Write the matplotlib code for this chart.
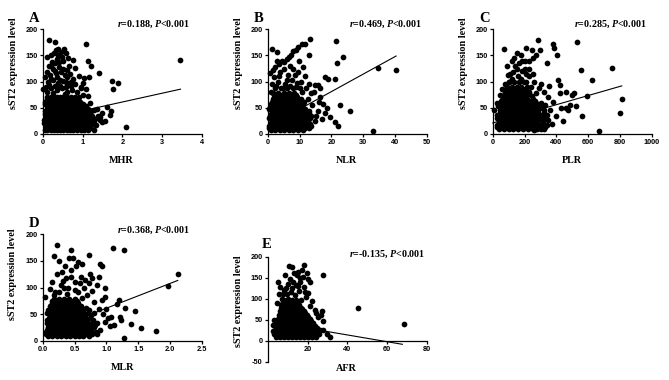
import matplotlib
matplotlib.use("Agg")
import matplotlib.pyplot as plt
import numpy as np

# ---------------- data ----------------
Y_LABEL = "sST2 expression level"

# Panel A: MHR
A_POINTS = [
    (0.17, 179), (0.31, 176), (1.10, 171), (3.46, 142), (0.12, 147), (0.28, 155), (0.33, 160), (0.39, 162),
    (0.45, 156), (0.54, 162), (0.59, 155), (0.24, 138), (0.37, 144), (0.48, 147), (0.52, 139), (0.75, 142),
    (0.82, 126), (0.66, 129), (0.27, 125), (0.42, 128), (0.10, 119), (0.18, 112), (0.33, 116), (0.45, 119),
    (0.56, 112), (0.69, 115), (0.77, 106), (0.14, 100), (0.27, 103), (0.39, 97), (0.52, 101), (0.65, 95),
    (0.09, 90), (0.22, 87), (0.35, 84), (0.48, 87), (0.60, 81), (0.73, 84), (0.86, 81), (0.96, 88),
    (1.02, 75), (1.15, 72), (1.15, 139), (1.21, 130), (1.41, 117), (1.05, 107), (1.16, 109), (1.73, 101),
    (1.90, 98), (1.76, 86), (2.08, 13), (1.71, 44), (1.69, 37), (1.61, 52), (1.57, 24), (1.32, 18),
    (0.95, 90), (1.10, 85), (0.02, 85), (1.29, 46), (1.44, 33), (0.20, 130), (0.30, 135), (0.60, 122),
    (0.36, 108), (0.58, 100), (0.16, 93), (0.44, 92), (0.70, 92), (0.25, 78), (0.55, 76), (0.84, 68),
    (1.18, 60), (1.36, 48), (1.50, 40), (1.48, 22), (0.22, 150), (0.41, 138), (0.30, 120), (0.50, 125),
    (0.62, 108), (0.20, 106), (0.43, 104), (0.72, 100), (0.10, 80), (0.32, 92), (0.58, 90), (0.80, 95),
    (0.38, 150), (0.64, 145), (0.15, 130), (0.90, 110), (1.00, 98), (0.05, 108),
]
A_BLOB = {
    8: [0.05, 0.12, 0.20, 0.28, 0.36, 0.44, 0.52, 0.60, 0.68, 0.76, 0.85, 0.95, 1.05, 1.14, 1.28],
    12: [0.09, 0.16, 0.24, 0.32, 0.40, 0.48, 0.56, 0.64, 0.72, 0.80, 0.90, 1.00, 1.09, 1.20],
    17: [0.08, 0.16, 0.24, 0.32, 0.40, 0.48, 0.56, 0.64, 0.72, 0.80, 0.90, 1.00, 1.10, 1.22, 1.35],
    21: [0.04, 0.12, 0.20, 0.28, 0.36, 0.44, 0.52, 0.60, 0.68, 0.76, 0.85, 0.95, 1.05, 1.16, 1.28],
    26: [0.04, 0.12, 0.20, 0.28, 0.36, 0.44, 0.52, 0.60, 0.68, 0.76, 0.85, 0.94, 1.04, 1.16, 1.30, 1.45],
    30: [0.08, 0.16, 0.24, 0.32, 0.40, 0.48, 0.56, 0.64, 0.72, 0.80, 0.90, 0.99, 1.10, 1.22, 1.36],
    35: [0.09, 0.17, 0.25, 0.33, 0.41, 0.49, 0.57, 0.65, 0.73, 0.82, 0.92, 1.02, 1.12, 1.25, 1.38],
    39: [0.05, 0.13, 0.21, 0.29, 0.37, 0.45, 0.53, 0.61, 0.69, 0.77, 0.87, 0.97, 1.07, 1.18],
    44: [0.06, 0.14, 0.22, 0.30, 0.38, 0.46, 0.54, 0.62, 0.70, 0.79, 0.89, 1.00, 1.10, 1.22],
    48: [0.10, 0.18, 0.26, 0.34, 0.42, 0.50, 0.58, 0.66, 0.74, 0.84, 0.94, 1.04, 1.15],
    53: [0.10, 0.18, 0.26, 0.34, 0.42, 0.50, 0.58, 0.66, 0.75, 0.85, 0.96, 1.08],
    57: [0.06, 0.14, 0.22, 0.30, 0.38, 0.46, 0.54, 0.62, 0.70, 0.80, 0.90, 1.01],
    62: [0.07, 0.15, 0.23, 0.31, 0.39, 0.47, 0.55, 0.63, 0.72, 0.82, 0.94],
    66: [0.11, 0.19, 0.27, 0.35, 0.43, 0.51, 0.59, 0.67, 0.77, 0.88],
    71: [0.12, 0.20, 0.28, 0.36, 0.44, 0.52, 0.60, 0.70, 0.80, 0.90],
}
A_FIT = (27.5, 16.8)          # intercept, slope
A_FIT_RANGE = (0.02, 3.46)

# Panel B: NLR
B_POINTS = [
    (13.3, 181), (21.4, 177), (1.45, 162), (3.0, 156), (23.7, 147), (21.6, 135), (34.7, 127), (40.3, 123),
    (0.72, 116), (11.7, 172), (10.7, 171), (9.6, 166), (8.8, 160), (8.0, 158), (7.3, 150), (12.8, 150),
    (5.95, 144), (6.7, 147), (4.4, 140), (5.2, 137), (3.6, 133), (2.4, 128), (18.0, 108), (19.0, 106),
    (21.1, 106), (15.9, 94), (16.4, 87), (14.8, 94), (22.7, 55), (25.8, 44), (33.0, 6), (22.2, 15),
    (21.0, 23), (19.6, 33), (18.0, 40), (18.5, 49), (17.5, 58), (15.9, 43), (14.8, 24), (13.3, 19),
    (11.7, 18), (16.5, 70), (13.5, 78), (12.0, 88), (10.5, 100), (9.5, 118), (11.0, 128), (8.0, 125),
    (6.5, 112), (4.0, 118), (2.0, 108), (1.2, 95), (3.2, 100), (5.5, 96), (7.5, 104), (9.0, 90),
    (10.8, 80), (12.5, 66), (14.0, 56), (15.2, 35), (17.0, 28), (12.8, 40), (9.8, 140), (7.0, 130),
    (2.8, 140), (1.8, 122), (5.0, 125), (8.5, 112), (3.5, 110), (6.0, 104), (9.2, 98), (11.8, 110),
    (4.8, 88), (7.0, 92), (10.0, 88), (13.0, 96), (2.6, 92), (1.0, 80), (14.5, 80), (16.0, 62),
]
B_BLOB = {
    8: [1.0, 2.4, 3.8, 5.2, 6.6, 8.0, 9.4, 11.0],
    12: [0.4, 1.7, 3.1, 4.5, 5.9, 7.3, 8.7, 10.1, 11.6, 13.0],
    16: [0.5, 1.8, 3.2, 4.6, 6.0, 7.4, 8.8, 10.2, 11.8, 13.5],
    21: [1.0, 2.3, 3.7, 5.1, 6.5, 7.9, 9.3, 10.8, 12.3],
    25: [1.2, 2.6, 4.0, 5.4, 6.8, 8.2, 9.6, 11.0, 12.6],
    30: [0.4, 1.9, 3.3, 4.7, 6.1, 7.5, 8.9, 10.3, 11.8, 13.2],
    34: [0.6, 2.0, 3.4, 4.8, 6.2, 7.6, 9.0, 10.4, 12.0, 13.6],
    39: [1.0, 2.4, 3.8, 5.2, 6.6, 8.0, 9.4, 10.9, 12.4],
    43: [1.3, 2.7, 4.1, 5.5, 6.9, 8.3, 9.7, 11.2, 12.8],
    48: [0.4, 1.8, 3.2, 4.6, 6.0, 7.4, 8.8, 10.3, 11.8],
    52: [0.7, 2.1, 3.5, 4.9, 6.3, 7.7, 9.1, 10.6],
    57: [1.0, 2.4, 3.8, 5.2, 6.6, 8.0, 9.5, 11.0],
    61: [1.4, 2.8, 4.2, 5.6, 7.0, 8.4, 9.9, 11.5],
    66: [1.7, 3.1, 4.5, 5.9, 7.3, 8.8, 10.3],
    70: [2.0, 3.4, 4.8, 6.2, 7.6, 9.1],
    75: [2.6, 4.1, 5.6, 7.2, 8.8],
    79: [1.5, 3.2, 5.0, 6.8, 8.4],
    88: [2.4, 4.2, 6.0, 7.8],
}
B_FIT = (14.0, 3.35)
B_FIT_RANGE = (0.3, 40.3)

# Panel C: PLR
C_POINTS = [
    (282, 180), (71, 162), (381, 172), (527, 176), (402, 150), (385, 165), (245, 160), (297, 160),
    (209, 165), (552, 123), (747, 126), (623, 103), (590, 72), (810, 67), (800, 41), (559, 34),
    (667, 6), (463, 80), (509, 79), (496, 74), (422, 93), (412, 103), (355, 91), (343, 135),
    (270, 150), (255, 145), (485, 55), (463, 49), (422, 78), (150, 155), (175, 150), (120, 140),
    (140, 130), (200, 140), (225, 125), (185, 120), (230, 110), (110, 115), (160, 110), (260, 100),
    (290, 88), (320, 80), (350, 70), (380, 62), (330, 55), (300, 60), (270, 78), (240, 90),
    (210, 100), (430, 50), (400, 35), (440, 25), (370, 20), (330, 15), (300, 10), (260, 8),
    (470, 45), (520, 54), (360, 45), (90, 130), (105, 100), (80, 95), (60, 85), (45, 75),
    (10, 45), (30, 60), (200, 125), (130, 118), (165, 135), (210, 115), (95, 112), (150, 125),
    (185, 140), (120, 105), (250, 115), (300, 95), (175, 105), (135, 145), (230, 140),
]
C_BLOB = {
    10: [40, 70, 100, 130, 160, 190, 220, 250, 280, 320],
    14: [30, 55, 85, 115, 145, 175, 205, 235, 265, 300, 330],
    18: [25, 55, 85, 115, 145, 175, 205, 235, 265, 295, 340],
    22: [40, 70, 100, 130, 160, 190, 220, 250, 280, 315],
    27: [40, 70, 100, 130, 160, 190, 220, 250, 280, 310, 350],
    31: [25, 55, 85, 115, 145, 175, 205, 235, 265, 295, 330],
    36: [30, 60, 90, 120, 150, 180, 210, 240, 270, 300, 340],
    40: [45, 75, 105, 135, 165, 195, 225, 255, 285, 320],
    45: [45, 75, 105, 135, 165, 195, 225, 255, 285, 320],
    49: [50, 80, 110, 140, 170, 200, 230, 260, 295],
    54: [35, 65, 95, 125, 155, 185, 215, 245, 275, 310],
    58: [40, 70, 100, 130, 160, 190, 220, 250, 285],
    63: [50, 80, 110, 140, 170, 200, 230, 265],
    67: [65, 95, 125, 155, 185, 215, 250],
    72: [60, 90, 120, 150, 180, 210, 245],
    76: [75, 105, 135, 165, 195, 225],
    81: [75, 105, 135, 165, 195, 230],
    85: [85, 115, 145, 175, 205],
    90: [90, 120, 150, 180, 215],
    99: [100, 135, 165, 195],
}
C_FIT = (21.0, 0.0875)
C_FIT_RANGE = (0, 810)

# Panel D: MLR
D_POINTS = [
    (0.23, 179), (1.10, 175), (1.27, 170), (0.73, 161), (0.17, 160), (0.04, 83), (2.12, 125), (1.97, 102),
    (1.78, 19), (1.54, 23), (1.45, 56), (1.39, 32), (1.27, 6), (1.29, 62), (1.20, 76), (1.16, 69),
    (1.22, 45), (1.23, 39), (1.08, 45), (1.03, 42), (1.06, 27), (1.12, 30), (0.90, 145), (0.93, 140),
    (0.89, 120), (0.98, 100), (0.93, 76), (0.98, 82), (0.74, 126), (0.77, 117), (0.72, 108), (0.78, 93),
    (0.61, 145), (0.56, 148), (0.53, 140), (0.48, 155), (0.42, 155), (0.45, 133), (0.15, 110), (0.22, 125),
    (0.30, 130), (0.36, 118), (0.28, 105), (0.40, 100), (0.50, 110), (0.60, 120), (0.65, 100), (0.55, 92),
    (0.20, 92), (0.12, 98), (0.35, 140), (0.25, 150), (0.45, 170), (0.85, 105), (0.70, 85), (0.88, 60),
    (0.95, 50), (0.98, 35), (0.90, 20), (0.85, 12), (1.00, 60), (0.80, 72), (0.62, 80), (0.32, 112),
    (0.44, 120), (0.26, 92), (0.38, 88), (0.50, 95), (0.58, 108), (0.18, 85), (0.66, 115), (0.34, 100),
]
D_BLOB = {
    8: [0.08, 0.15, 0.22, 0.29, 0.36, 0.43, 0.50, 0.57, 0.64, 0.72],
    12: [0.05, 0.12, 0.19, 0.26, 0.33, 0.40, 0.47, 0.54, 0.61, 0.68, 0.78],
    16: [0.05, 0.12, 0.19, 0.26, 0.33, 0.40, 0.47, 0.54, 0.61, 0.68, 0.76, 0.84],
    21: [0.06, 0.13, 0.20, 0.27, 0.34, 0.41, 0.48, 0.55, 0.62, 0.69, 0.76],
    25: [0.09, 0.16, 0.23, 0.30, 0.37, 0.44, 0.51, 0.58, 0.65, 0.72, 0.80],
    30: [0.10, 0.17, 0.24, 0.31, 0.38, 0.45, 0.52, 0.59, 0.66, 0.73, 0.82],
    34: [0.06, 0.13, 0.20, 0.27, 0.34, 0.41, 0.48, 0.55, 0.62, 0.69, 0.77, 0.86],
    39: [0.07, 0.14, 0.21, 0.28, 0.35, 0.42, 0.49, 0.56, 0.63, 0.70, 0.79],
    43: [0.10, 0.17, 0.24, 0.31, 0.38, 0.45, 0.52, 0.59, 0.66, 0.74],
    48: [0.11, 0.18, 0.25, 0.32, 0.39, 0.46, 0.53, 0.60, 0.67, 0.76],
    52: [0.07, 0.14, 0.21, 0.28, 0.35, 0.42, 0.49, 0.56, 0.63, 0.71, 0.80],
    57: [0.08, 0.15, 0.22, 0.29, 0.36, 0.43, 0.50, 0.57, 0.64, 0.72],
    61: [0.11, 0.18, 0.25, 0.32, 0.39, 0.46, 0.53, 0.60, 0.68],
    66: [0.11, 0.18, 0.25, 0.32, 0.39, 0.46, 0.53, 0.60],
    70: [0.14, 0.21, 0.28, 0.35, 0.42, 0.49, 0.56],
    75: [0.14, 0.21, 0.29, 0.37, 0.45, 0.54],
    79: [0.17, 0.25, 0.33, 0.41, 0.50],
}
D_FIT = (14.5, 46.6)
D_FIT_RANGE = (0.05, 2.12)

# Panel E: AFR
E_POINTS = [
    (18.4, 180), (10.7, 178), (12.0, 175), (27.9, 156), (45.5, 77), (68.5, 39), (5.3, 140), (17.1, 168),
    (15.4, 164), (19.6, 160), (20.4, 148), (17.9, 152), (14.5, 156), (16.2, 140), (8.7, 156), (21.3, 140),
    (20.4, 113), (27.1, 71), (26.8, 62), (27.9, 48), (23.8, 74), (25.1, 57), (31.3, 9.5), (29.6, 15),
    (27.9, 25), (3.3, 49), (2.8, 37), (6.0, 128), (8.0, 120), (10.0, 135), (12.0, 125), (14.0, 132),
    (11.0, 148), (13.0, 160), (9.5, 110), (7.0, 100), (15.5, 118), (18.0, 128), (19.0, 105), (22.0, 95),
    (21.0, 82), (24.0, 66), (16.5, 98), (5.5, 110), (4.5, 90), (6.5, 85), (2.5, 22), (9.0, 125),
    (11.5, 115), (13.5, 108), (15.0, 130), (7.5, 112), (12.5, 140), (16.0, 150), (10.0, 100), (18.5, 115),
]
E_BLOB = {
    8: [4, 6, 8, 10, 12, 14, 16, 18, 20, 22, 24],
    12: [5, 7, 9, 11, 13, 15, 17, 19, 21, 23],
    16: [3, 5, 7, 9, 11, 13, 15, 17, 19, 21, 23, 25.5],
    21: [3.5, 5, 7, 9, 11, 13, 15, 17, 19, 21, 23, 25],
    25: [4, 6, 8, 10, 12, 14, 16, 18, 20, 22, 24, 26],
    30: [4.5, 6.5, 8.5, 10.5, 12.5, 14.5, 16.5, 18.5, 20.5, 22.5, 24.5],
    34: [3.5, 5.5, 7.5, 9.5, 11.5, 13.5, 15.5, 17.5, 19.5, 21.5, 23.5],
    39: [4, 6, 8, 10, 12, 14, 16, 18, 20, 22],
    43: [4.5, 6.5, 8.5, 10.5, 12.5, 14.5, 16.5, 18.5, 20.5, 22.5],
    48: [5.5, 7.5, 9.5, 11.5, 13.5, 15.5, 17.5, 19.5, 21.5],
    52: [5, 7, 9, 11, 13, 15, 17, 19, 21],
    57: [6, 8, 10, 12, 14, 16, 18, 20],
    61: [5.5, 7.5, 9.5, 11.5, 13.5, 15.5, 17.5, 19.5],
    66: [6.5, 8.5, 10.5, 12.5, 14.5, 16.5, 18.5],
    70: [6, 8, 10, 12, 14, 16, 18],
    75: [7, 9, 11, 13, 15, 17],
    79: [6.5, 8.5, 10.5, 12.5, 14.5, 16.5],
    84: [7.5, 9.5, 11.5, 13.5, 15.5],
    88: [7, 9, 11, 13, 15],
    93: [8.5, 10.5, 12.5, 14.5],
    97: [8, 10, 12, 14],
}
E_FIT = (46.0, -0.808)
E_FIT_RANGE = (3.0, 67.6)

PANELS = [
    dict(letter="A", xlabel="MHR", pts=A_POINTS, blob=A_BLOB, fit=A_FIT, frange=A_FIT_RANGE,
         xlim=(0, 4), xticks=[0, 1, 2, 3, 4], xtl=["0", "1", "2", "3", "4"],
         ylim=(0, 200), yticks=[0, 50, 100, 150, 200],
         r="0.188", rect=[0.0638, 0.6474, 0.2381, 0.2755], ann=(0.925, 1.025), let=(-0.086, 1.17),
         ylab=(-0.185, 0.68), xlab=(0.496, -0.253)),
    dict(letter="B", xlabel="NLR", pts=B_POINTS, blob=B_BLOB, fit=B_FIT, frange=B_FIT_RANGE,
         xlim=(0, 50), xticks=[0, 10, 20, 30, 40, 50], xtl=["0", "10", "20", "30", "40", "50"],
         ylim=(0, 200), yticks=[0, 50, 100, 150, 200],
         r="0.469", rect=[0.4002, 0.6474, 0.2381, 0.2755], ann=(0.969, 1.025), let=(-0.086, 1.17),
         ylab=(-0.185, 0.68), xlab=(0.496, -0.253)),
    dict(letter="C", xlabel="PLR", pts=C_POINTS, blob=C_BLOB, fit=C_FIT, frange=C_FIT_RANGE,
         xlim=(0, 1000), xticks=[0, 200, 400, 600, 800, 1000],
         xtl=["0", "200", "400", "600", "800", "1000"],
         ylim=(0, 200), yticks=[0, 50, 100, 150, 200],
         r="0.285", rect=[0.7365, 0.6474, 0.2381, 0.2755], ann=(0.969, 1.025), let=(-0.086, 1.17),
         ylab=(-0.185, 0.68), xlab=(0.496, -0.253)),
    dict(letter="D", xlabel="MLR", pts=D_POINTS, blob=D_BLOB, fit=D_FIT, frange=D_FIT_RANGE,
         xlim=(0, 2.5), xticks=[0, 0.5, 1.0, 1.5, 2.0, 2.5],
         xtl=["0.0", "0.5", "1.0", "1.5", "2.0", "2.5"],
         ylim=(0, 200), yticks=[0, 50, 100, 150, 200],
         r="0.368", rect=[0.0638, 0.1034, 0.2381, 0.2800], ann=(0.925, 1.012), let=(-0.086, 1.166),
         ylab=(-0.19, 0.627), xlab=(0.5, -0.252)),
    dict(letter="E", xlabel="AFR", pts=E_POINTS, blob=E_BLOB, fit=E_FIT, frange=E_FIT_RANGE,
         xlim=(0, 80), xticks=[20, 40, 60, 80], xtl=["20", "40", "60", "80"],
         ylim=(-50, 200), yticks=[-50, 0, 50, 100, 150, 200],
         r="-0.135", rect=[0.4002, 0.0482, 0.2381, 0.2763], ann=(0.987, 1.0), let=(-0.036, 1.175),
         ylab=(-0.185, 0.578), xlab=(0.496, -0.068)),
]

# ---------------- style ----------------
plt.rcParams["mathtext.fontset"] = "custom"
plt.rcParams["mathtext.it"] = "Liberation Serif:italic:bold"
plt.rcParams["mathtext.rm"] = "Liberation Serif:bold"
plt.rcParams["mathtext.bf"] = "Liberation Serif:bold"

SERIF = "Liberation Serif"
SANS = "Liberation Sans"

fig = plt.figure(figsize=(6.69, 3.8), dpi=100)

for p in PANELS:
    ax = fig.add_axes(p["rect"])
    xs = [q[0] for q in p["pts"]]
    ys = [q[1] for q in p["pts"]]
    for yv, xrow in p["blob"].items():
        xs += list(xrow)
        ys += [yv] * len(xrow)
    ax.scatter(xs, ys, s=17, c="black", linewidths=0, clip_on=False, zorder=3)

    a, b = p["fit"]
    xr = np.array(p["frange"], dtype=float)
    ax.plot(xr, a + b * xr, color="black", lw=0.8, zorder=2, clip_on=False)

    ax.set_xlim(*p["xlim"])
    ax.set_ylim(*p["ylim"])
    ax.set_xticks(p["xticks"])
    ax.set_xticklabels(p["xtl"])
    ax.set_yticks(p["yticks"])
    ax.set_yticklabels([str(v) for v in p["yticks"]])
    for s in ("top", "right"):
        ax.spines[s].set_visible(False)
    for s in ("left", "bottom"):
        ax.spines[s].set_linewidth(0.9)
    if p["ylim"][0] < 0:
        ax.spines["bottom"].set_position(("data", 0))
    ax.tick_params(direction="out", length=2.5, width=0.9, pad=1.2, labelsize=5.3)
    for lab in ax.get_xticklabels() + ax.get_yticklabels():
        lab.set_fontfamily(SANS)
        lab.set_fontweight("bold")

    ax.text(p["let"][0], p["let"][1], p["letter"], transform=ax.transAxes, ha="left", va="top",
            fontsize=10.5, fontweight="bold", family=SERIF)
    ax.text(p["ann"][0], p["ann"][1], r"$\mathit{r}$=" + p["r"] + r", $\mathit{P}$<0.001",
            transform=ax.transAxes, ha="right", va="baseline", fontsize=7.2, fontweight="bold",
            family=SERIF)
    ax.text(p["ylab"][0], p["ylab"][1], Y_LABEL, transform=ax.transAxes, rotation=90,
            ha="center", va="center", fontsize=7.3, fontweight="bold", family=SERIF)
    ax.text(p["xlab"][0], p["xlab"][1], p["xlabel"], transform=ax.transAxes,
            ha="center", va="center", fontsize=7.3, fontweight="bold", family=SERIF)

fig.savefig("out.png", dpi=100)
